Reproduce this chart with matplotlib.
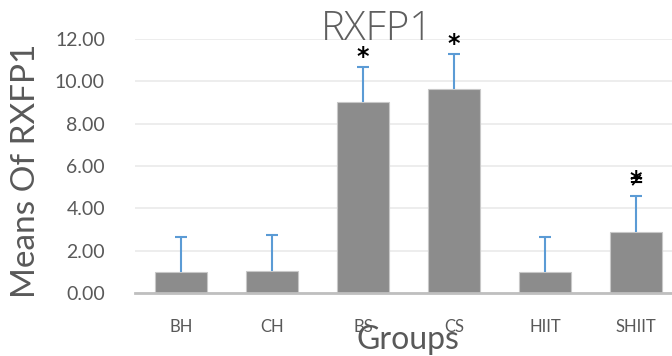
"""RXFP1 group means with upper SD error bars and significance marks."""

import matplotlib

matplotlib.use("Agg")

import matplotlib.pyplot as plt  # noqa: E402

groups = ["BH", "CH", "BS", "CS", "HIIT", "SHIIT"]
means = [0.98, 1.04, 9.0, 9.62, 0.98, 2.9]
errors = [1.68, 1.70, 1.69, 1.68, 1.68, 1.70]
marks = ["", "", "*", "*", "", "*"]
extra_marks = ["", "", "", "", "", "≠"]
yticks = [0, 2, 4, 6, 8, 10, 12]

TEXT = "#595959"
FONT = ["Lato", "DejaVu Sans"]
plt.rcParams["font.family"] = FONT

fig = plt.figure(figsize=(6.72, 3.56), dpi=100)
ax = fig.add_axes([0.2016, 0.177, 0.8125, 0.7135])

x = list(range(len(groups)))
tops = [m + e for m, e in zip(means, errors)]
ax.bar(x, means, width=0.58, color="#8c8c8c", edgecolor="#c8c8c8", linewidth=0.8, zorder=2)
# upper-only error bars: stem plus a cap at the top
ax.vlines(x, means, tops, color="#5b9bd5", linewidth=1.5, zorder=3)
ax.plot(x, tops, linestyle="none", marker="_", markersize=9,
        markeredgewidth=1.5, color="#5b9bd5", zorder=3)

for xi, t, s, s2 in zip(x, tops, marks, extra_marks):
    off = 0.7 if s2 else 0.45
    if s:
        ax.text(xi, t + off, s, ha="center", va="center", fontsize=17,
                fontweight="bold", color="black", family="DejaVu Sans", clip_on=False)
    if s2:
        ax.text(xi, t + off, s2, ha="center", va="center", fontsize=13,
                fontweight="bold", color="black", family="DejaVu Sans", clip_on=False)

ax.set_xlim(-0.5, len(groups) - 0.5)
ax.set_ylim(0, 12)
ax.set_yticks(yticks)
ax.set_yticklabels([f"{v:.2f}" for v in yticks], fontsize=14, color=TEXT)
ax.set_xticks(x)
ax.set_xticklabels(groups, fontsize=12, color=TEXT)
ax.tick_params(axis="both", length=0)
ax.tick_params(axis="y", pad=22)
ax.tick_params(axis="x", pad=19)
ax.grid(axis="y", color="#ececec", linewidth=1.3, zorder=0)
ax.set_axisbelow(True)
for side in ["top", "right", "left"]:
    ax.spines[side].set_visible(False)
ax.spines["bottom"].set_color("#bfbfbf")
ax.spines["bottom"].set_linewidth(2)

fig.text(377 / 672, 1 - 30 / 356, "RXFP1", ha="center", va="center",
         fontsize=29, fontweight="light", color="#5f5f5f",
         family=["Open Sans", "DejaVu Sans"])
fig.text(26 / 672, 0.52, "Means Of RXFP1", ha="center", va="center",
         rotation=90, fontsize=24, color=TEXT)
fig.text(408 / 672, 1 - 340 / 356, "Groups", ha="center", va="center",
         fontsize=23, color=TEXT)

fig.savefig("out.png", dpi=100)
